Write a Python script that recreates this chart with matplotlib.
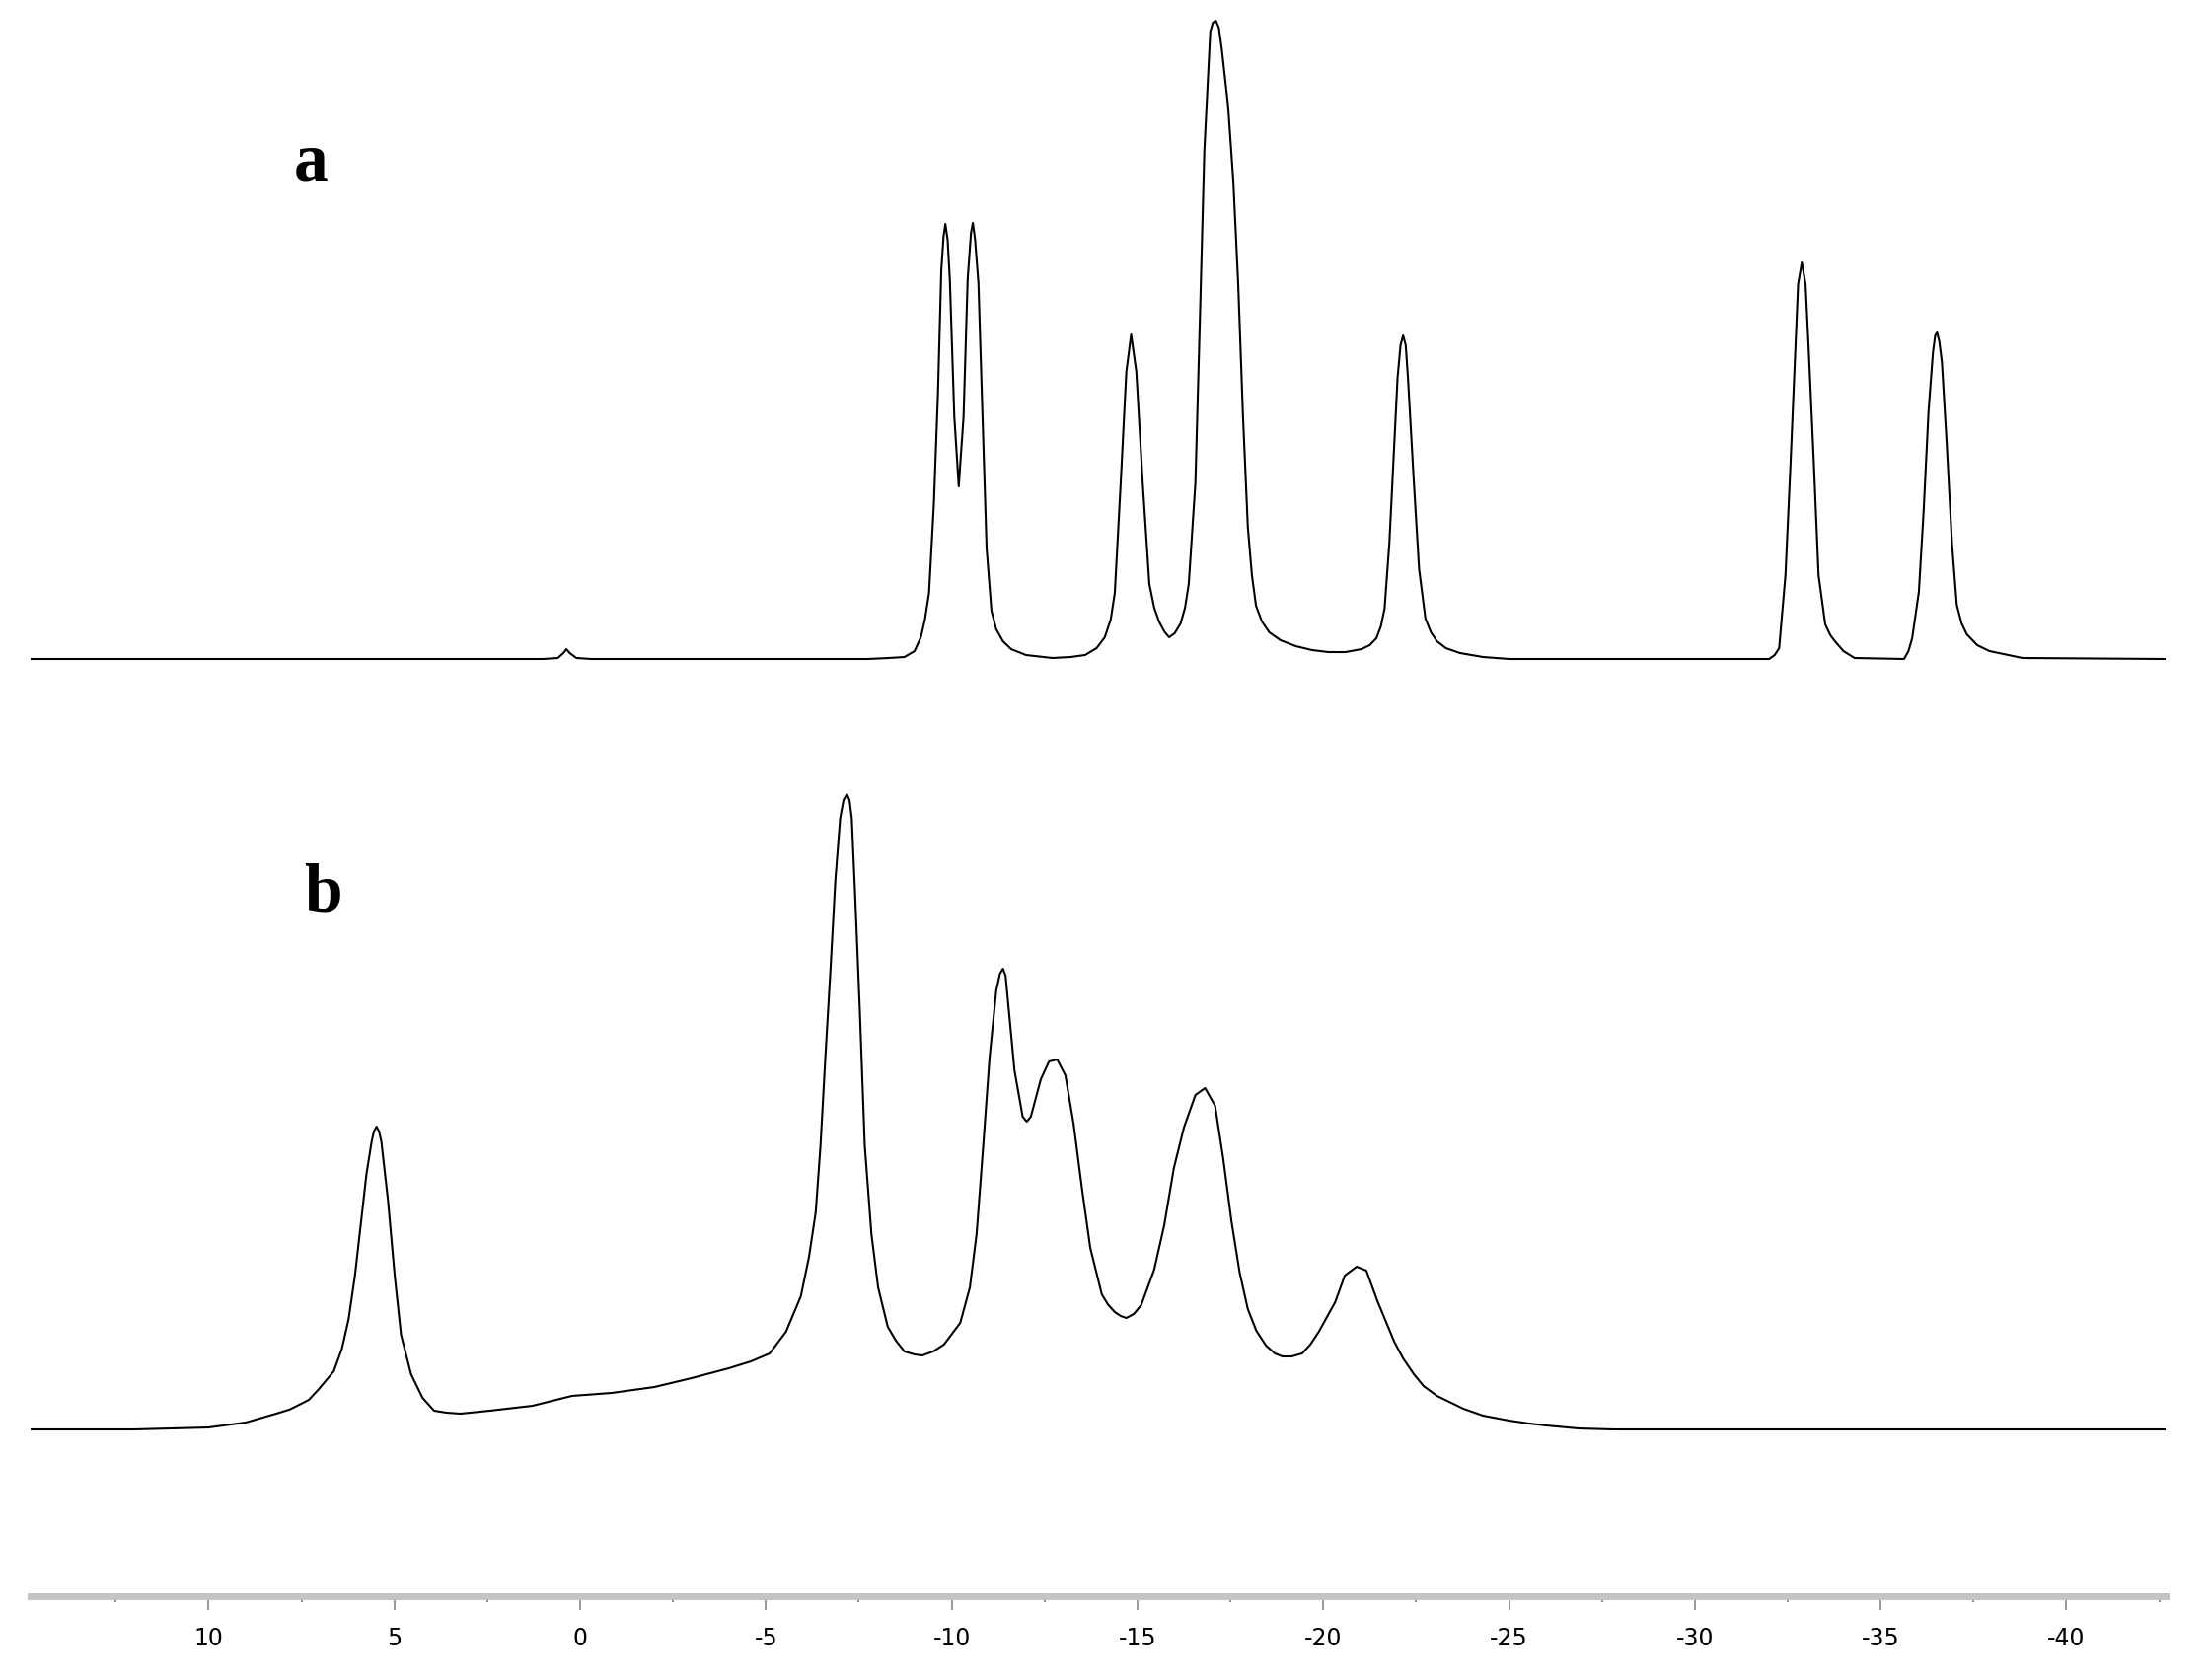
import matplotlib
matplotlib.use("Agg")
import matplotlib.pyplot as plt
from matplotlib.ticker import MultipleLocator
import numpy as np

plt.rcParams['axes.unicode_minus'] = False

# spectrum a (ppm, intensity)
ppm_a = [14.79, 5.0, 1.0, 0.6, 0.45, 0.37, 0.28, 0.1, -0.3, -7.0, -7.75, -8.3, -8.73, -9.0,
         -9.17, -9.28, -9.39, -9.52, -9.63, -9.72, -9.78, -9.83, -9.89, -9.95, -10.07,
         -10.19, -10.32, -10.43, -10.52, -10.57, -10.63, -10.72, -10.83, -10.94, -11.07,
         -11.2, -11.38, -11.6, -12.0, -12.71, -13.2, -13.59, -13.9, -14.12, -14.28, -14.39,
         -14.55, -14.70, -14.83, -14.97, -15.14, -15.32, -15.45, -15.58, -15.72, -15.85,
         -16.0, -16.16, -16.28, -16.38, -16.56, -16.69, -16.80, -16.96, -17.03, -17.11,
         -17.19, -17.27, -17.44, -17.58, -17.71, -17.84, -17.97, -18.08, -18.19, -18.35,
         -18.55, -18.85, -19.26, -19.7, -20.14, -20.6, -21.03, -21.25, -21.43, -21.55,
         -21.65, -21.78, -21.89, -22.0, -22.08, -22.15, -22.22, -22.28, -22.43, -22.58,
         -22.75, -22.9, -23.06, -23.3, -23.68, -24.3, -25.01, -28.11, -32.0, -32.15,
         -32.27, -32.44, -32.58, -32.71, -32.78, -32.88, -32.98, -33.06, -33.20, -33.33,
         -33.51, -33.65, -33.77, -34.0, -34.30, -35.63, -35.75, -35.85, -36.03, -36.16,
         -36.29, -36.41, -36.47, -36.52, -36.58, -36.65, -36.78, -36.92, -37.05, -37.18,
         -37.32, -37.6, -37.93, -38.82, -42.67]
int_a = [0, 0, 0, 1, 6, 10, 6, 1, 0, 0, 0, 1, 2, 8,
         22, 40, 67, 157, 269, 394, 428, 441, 425, 385, 246,
         175, 246, 385, 432, 442, 425, 381, 246, 112, 49,
         30, 18, 10, 4, 1, 2, 4, 11, 22, 40, 67,
         179, 291, 329, 291, 179, 76, 52, 38, 28, 22,
         26, 36, 52, 76, 179, 358, 515, 636, 645, 647,
         640, 618, 560, 484, 381, 246, 134, 85, 54, 38,
         27, 19, 13, 9, 7, 7, 10, 14, 21, 33,
         51, 118, 201, 285, 318, 328, 318, 285, 185, 91,
         41, 27, 18, 11, 6, 2, 0, 0, 0, 4,
         11, 85, 201, 318, 380, 402, 380, 318, 201, 85,
         35, 24, 18, 8, 1, 0, 8, 21, 68, 151,
         251, 311, 328, 331, 322, 301, 218, 118, 55, 36,
         25, 14, 8, 1, 0]

# spectrum b (ppm, intensity)
ppm_b = [14.79, 12.0, 10.0, 9.0, 8.18, 7.83, 7.56, 7.30, 7.03, 6.63, 6.41, 6.23, 6.06,
         5.90, 5.75, 5.61, 5.55, 5.48, 5.41, 5.35, 5.17, 4.99, 4.82, 4.55, 4.24, 3.93,
         3.6, 3.22, 2.43, 1.28, 0.22, -0.85, -2.0, -3.0, -4.0, -4.6, -5.10, -5.54, -5.94,
         -6.16, -6.34, -6.47, -6.60, -6.74, -6.87, -7.00, -7.09, -7.18, -7.25, -7.31,
         -7.41, -7.53, -7.66, -7.84, -8.02, -8.28, -8.5, -8.73, -9.0, -9.21, -9.5, -9.79,
         -10.23, -10.49, -10.67, -10.85, -11.02, -11.20, -11.30, -11.38, -11.45, -11.51,
         -11.69, -11.91, -12.02, -12.13, -12.40, -12.62, -12.84, -13.06, -13.28, -13.51,
         -13.73, -14.04, -14.2, -14.39, -14.55, -14.70, -14.9, -15.10, -15.45, -15.72,
         -15.98, -16.25, -16.56, -16.82, -17.09, -17.31, -17.53, -17.75, -17.97, -18.2,
         -18.46, -18.7, -18.90, -19.15, -19.43, -19.65, -19.88, -20.32, -20.58, -20.90,
         -21.16, -21.47, -21.91, -22.15, -22.44, -22.7, -23.06, -23.77, -24.30, -25.0,
         -25.54, -26.0, -26.87, -27.8, -28.73, -42.67]
int_b = [0, 0, 2, 7, 16, 20, 25, 30, 41, 59, 82, 112, 156,
         209, 259, 292, 302, 307, 302, 292, 232, 156, 96, 56, 32, 19,
         17, 16, 19, 24, 34, 37, 43, 52, 62, 69, 77, 99, 135,
         175, 220, 288, 377, 467, 557, 620, 638, 644, 638, 620,
         534, 422, 288, 198, 144, 104, 90, 79, 76, 75, 79, 86,
         108, 144, 198, 288, 377, 445, 462, 467, 460, 436,
         364, 317, 312, 317, 355, 373, 375, 359, 310, 243,
         184, 137, 127, 119, 115, 113, 117, 126, 162, 207,
         265, 306, 339, 346, 328, 274, 211, 159, 122, 100,
         85, 77, 74, 74, 77, 86, 99, 129, 156, 165,
         161, 129, 89, 72, 56, 44, 34, 21, 14, 9,
         6, 4, 1, 0, 0, 0]

labels = ['a', 'b']

W, H = 2239, 1703
fig = plt.figure(figsize=(W / 100, H / 100), dpi=100)
ax = fig.add_axes([31 / W, 85 / H, (2195 - 31) / W, 1618 / H])

off_a = 950
off_b = 169
ax.plot(ppm_a, np.array(int_a) + off_a, color='black', lw=1.5, solid_joinstyle='round')
ax.plot(ppm_b, np.array(int_b) + off_b, color='black', lw=1.5, solid_joinstyle='round')

ax.text(7.25, 1436, labels[0], fontsize=50, fontweight='bold',
        family=['Liberation Serif', 'DejaVu Serif'], ha='center', va='baseline')
ax.text(6.93, 695, labels[1], fontsize=50, fontweight='bold',
        family=['Liberation Serif', 'DejaVu Serif'], ha='center', va='baseline')

ax.set_xlim(14.79, -42.67)
ax.set_ylim(0, 1618)

for s in ['top', 'left', 'right']:
    ax.spines[s].set_visible(False)
ax.spines['bottom'].set_color('#c4c4c4')
ax.spines['bottom'].set_linewidth(5)
ax.set_yticks([])

ax.xaxis.set_major_locator(MultipleLocator(5))
ax.xaxis.set_minor_locator(MultipleLocator(2.5))
ax.tick_params(axis='x', which='major', length=10, width=1.2, color='#888888',
               pad=12, labelsize=17)
ax.tick_params(axis='x', which='minor', length=4, width=1.2, color='#777777')
for lab in ax.get_xticklabels():
    lab.set_family(['Liberation Sans Narrow', 'DejaVu Sans'])

fig.savefig('out.png', dpi=100, facecolor='white')
